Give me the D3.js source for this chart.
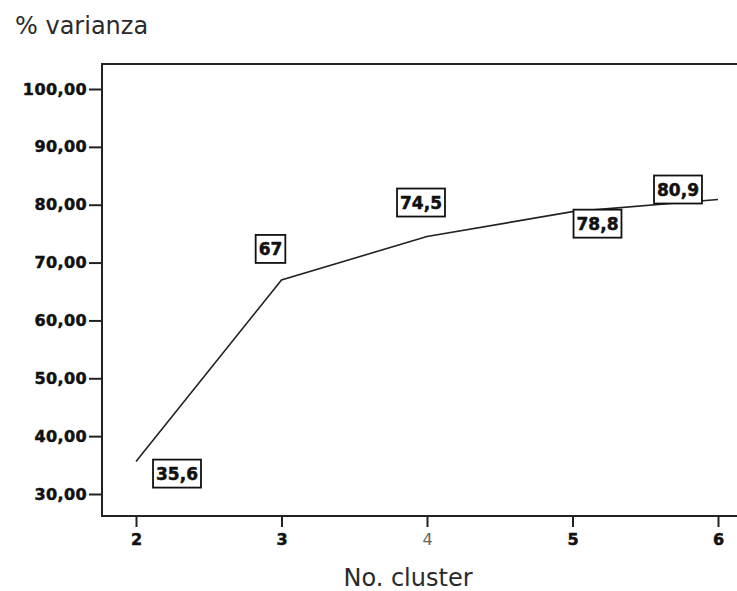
<!DOCTYPE html>
<html><head><meta charset="utf-8">
<script src="https://cdn.jsdelivr.net/npm/d3@7"></script>
<style>
html,body{margin:0;padding:0;background:#fff;}
svg{display:block;}
</style></head>
<body>
<svg id="c" width="737" height="591"></svg>
<script>
// ---- data ----
const clusters = [2, 3, 4, 5, 6];
const varianza = [35.6, 67, 74.5, 78.8, 80.9];
const yTicks = [30, 40, 50, 60, 70, 80, 90, 100];
const xTicks = [2, 3, 4, 5, 6];
const yTitle = "% varianza";
const xTitle = "No. cluster";

// ---- drawing ----
const svg = d3.select("#c");
const frame = {left: 102, top: 64, bottom: 516, right: 760};
const x = d3.scaleLinear().domain([2, 6]).range([136, 718]);
const y = d3.scaleLinear().domain([30, 100]).range([494, 89]);
const font = "Verdana, 'DejaVu Sans', sans-serif";
const comma = v => String(v).replace(".", ",");

// frame
svg.append("path")
  .attr("d", `M${frame.right},${frame.top}H${frame.left}V${frame.bottom}H${frame.right}`)
  .attr("fill", "none").attr("stroke", "#222").attr("stroke-width", 2);

// y axis
const yAxis = d3.axisLeft(y).tickValues(yTicks).tickSize(13).tickPadding(2)
  .tickFormat(d => d.toFixed(2).replace(".", ","));
const gy = svg.append("g").attr("transform", `translate(${frame.left},0)`).call(yAxis);
gy.select(".domain").remove();
gy.selectAll(".tick line").attr("stroke", "#222").attr("stroke-width", 2);
gy.selectAll(".tick text").attr("font-family", font).attr("font-size", 16)
  .attr("font-weight", "bold").attr("fill", "#111").attr("stroke", "#111")
  .attr("stroke-width", 0.5).attr("letter-spacing", 0.4);

// x axis
const xAxis = d3.axisBottom(x).tickValues(xTicks).tickSize(11).tickPadding(7)
  .tickFormat(d3.format("d"));
const gx = svg.append("g").attr("transform", `translate(0,${frame.bottom})`).call(xAxis);
gx.select(".domain").remove();
gx.selectAll(".tick line").attr("stroke", "#222").attr("stroke-width", 2);
gx.selectAll(".tick text").attr("font-family", font).attr("font-size", 16)
  .attr("font-weight", d => d === 4 ? "normal" : "bold")
  .attr("fill", d => d === 4 ? "#666" : "#111")
  .attr("stroke", d => d === 4 ? "none" : "#111").attr("stroke-width", 0.5);

// line
const pts = clusters.map((c, i) => ({c, v: varianza[i]}));
svg.append("path").datum(pts)
  .attr("d", d3.line().x(d => x(d.c)).y(d => y(d.v)))
  .attr("fill", "none").attr("stroke", "#222").attr("stroke-width", 1.6);

// value labels (offsets relative to point, styling only)
const offs = [[41, 12], [-11, -31], [-6, -34], [25, 12], [-40, -10]];
const lg = svg.append("g").selectAll("g").data(pts).join("g")
  .attr("transform", (d, i) => `translate(${x(d.c) + offs[i][0]},${y(d.v) + offs[i][1]})`);
lg.append("text").text(d => comma(d.v))
  .attr("font-family", font).attr("font-size", 17).attr("font-weight", "bold")
  .attr("stroke", "#111").attr("stroke-width", 0.5)
  .attr("text-anchor", "middle").attr("dy", "0.36em").attr("fill", "#111");
lg.each(function() {
  const g = d3.select(this);
  const bb = g.select("text").node().getBBox();
  g.insert("rect", "text")
    .attr("x", bb.x - 3).attr("y", -14).attr("width", bb.width + 6).attr("height", 28)
    .attr("fill", "#fff").attr("stroke", "#111").attr("stroke-width", 1.8);
});

// titles
svg.append("text").text(yTitle).attr("x", 15).attr("y", 34)
  .attr("font-family", font).attr("font-size", 24).attr("fill", "#2a2a2a");
svg.append("text").text(xTitle).attr("x", 408).attr("y", 586)
  .attr("text-anchor", "middle")
  .attr("font-family", font).attr("font-size", 24).attr("fill", "#2a2a2a");
</script>
</body></html>
